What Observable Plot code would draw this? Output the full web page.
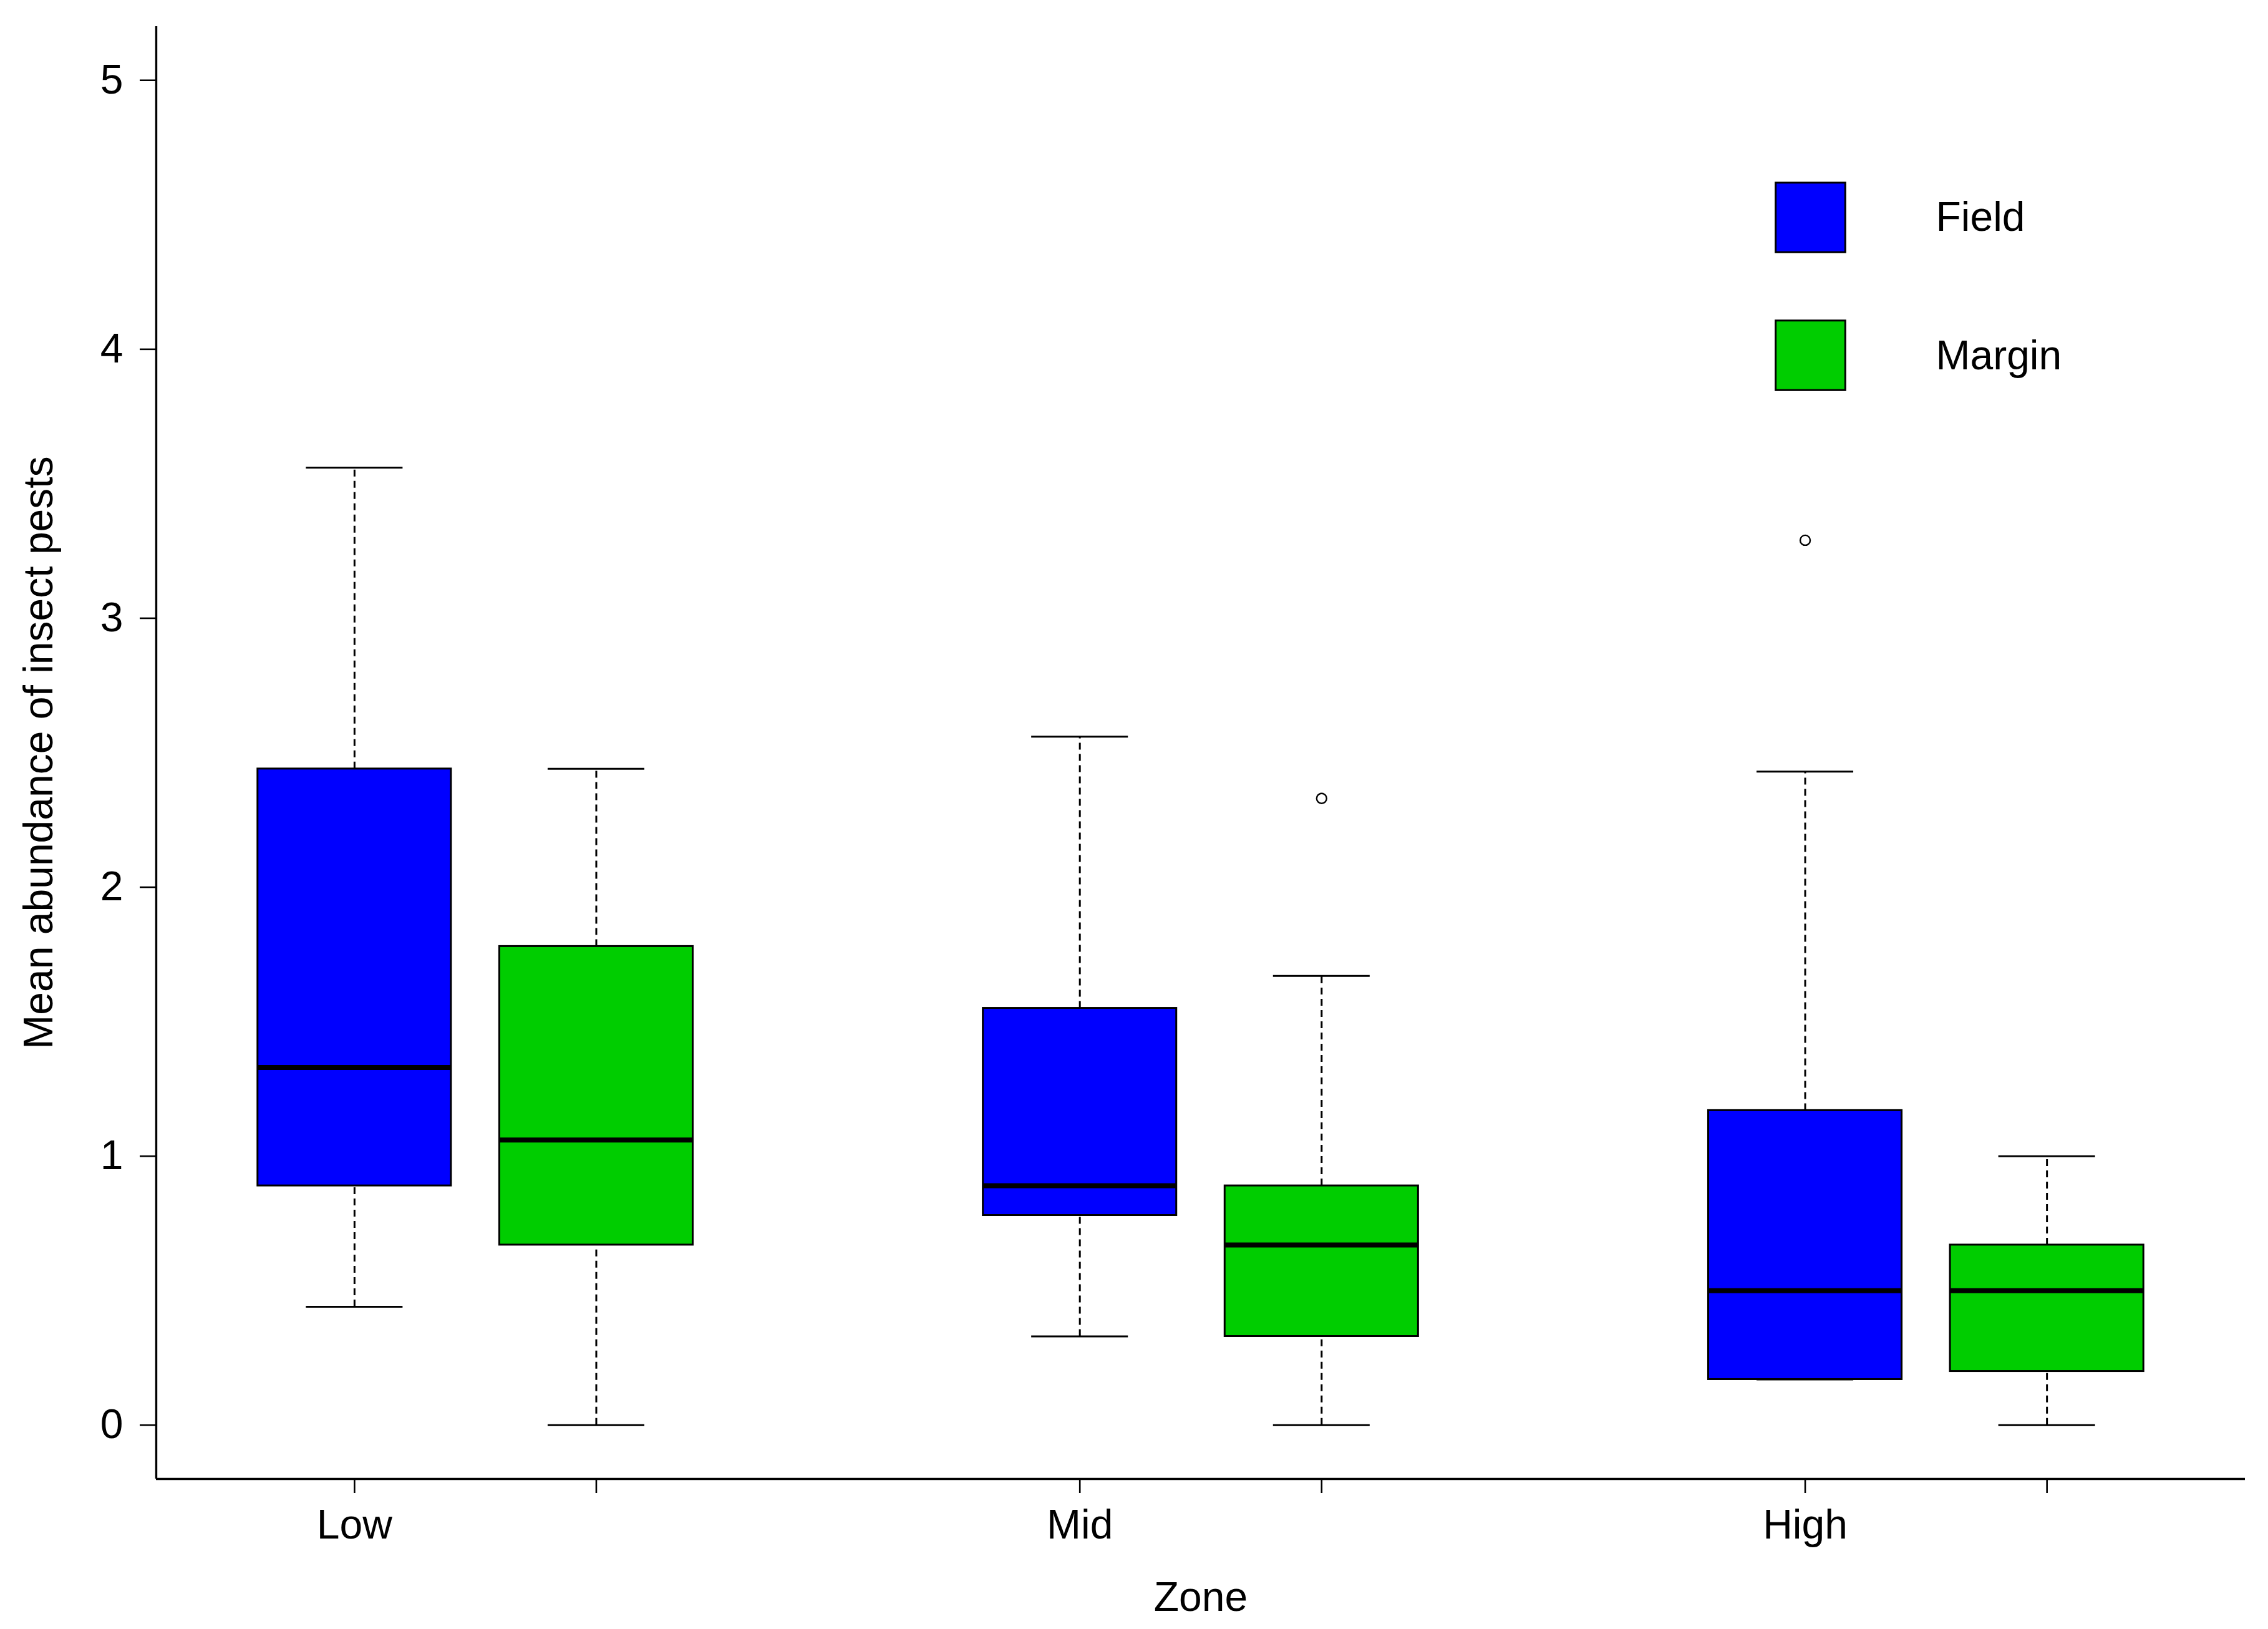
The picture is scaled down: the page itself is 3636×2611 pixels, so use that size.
<!DOCTYPE html>
<html>
<head>
<meta charset="utf-8">
<script src="https://cdn.jsdelivr.net/npm/d3@7"></script>
<script src="https://cdn.jsdelivr.net/npm/@observablehq/plot@0.6"></script>
<style>
  html, body { margin: 0; padding: 0; background: #ffffff; }
  svg { display: block; }
</style>
</head>
<body>
<div id="chart"></div>
<script>
// ---- data ----
const zones = ["Low", "Mid", "High"];
const groups = ["Field", "Margin"];
const groupColors = ["#0000FF", "#00CD00"];

const fieldMin    = [0.44, 0.33, 0.17];
const fieldQ1     = [0.89, 0.78, 0.17];
const fieldMedian = [1.33, 0.89, 0.50];
const fieldQ3     = [2.44, 1.55, 1.17];
const fieldMax    = [3.56, 2.56, 2.43];

const marginMin    = [0.00, 0.00, 0.00];
const marginQ1     = [0.67, 0.33, 0.20];
const marginMedian = [1.06, 0.67, 0.50];
const marginQ3     = [1.78, 0.89, 0.67];
const marginMax    = [2.44, 1.67, 1.00];

const outlierZone  = ["Mid", "High"];
const outlierGroup = ["Margin", "Field"];
const outlierValue = [2.33, 3.29];

const yTicks = [0, 1, 2, 3, 4, 5];
const xTitle = "Zone";
const yTitle = "Mean abundance of insect pests";

// ---- build table ----
const stats = {
  Field:  {min: fieldMin,  q1: fieldQ1,  med: fieldMedian,  q3: fieldQ3,  max: fieldMax},
  Margin: {min: marginMin, q1: marginQ1, med: marginMedian, q3: marginQ3, max: marginMax}
};
// box positions like R's boxplot(at = c(1,2, 4,5, 7,8))
const posOf = (zone, group) => zones.indexOf(zone) * 3 + groups.indexOf(group) + 1;
const boxes = [];
zones.forEach((z, i) => groups.forEach((g, j) => {
  const s = stats[g];
  boxes.push({zone: z, group: g, pos: posOf(z, g), min: s.min[i], q1: s.q1[i], med: s.med[i], q3: s.q3[i], max: s.max[i], color: groupColors[j]});
}));
const outliers = outlierValue.map((v, i) => ({pos: posOf(outlierZone[i], outlierGroup[i]), value: v}));
const tickPositions = boxes.map(d => d.pos);
const labelAt = new Map(zones.map(z => [posOf(z, groups[0]), z]));

// R-style axis ranges: xlim c(0.5, 8.5), ylim c(0,5), each extended by 4%
const xlo = 0.5, xhi = 3 * zones.length - 0.5;
const xpad = (xhi - xlo) * 0.04;
const ylo = 0, yhi = 5, ypad = (yhi - ylo) * 0.04;
const xDomain = [xlo - xpad, xhi + xpad];
const yDomain = [ylo - ypad, yhi + ypad];

const halfBox = 0.4, halfCap = 0.2;
const fontSize = 66;
const lw = 3;

const chart = Plot.plot({
  width: 3636,
  height: 2611,
  marginLeft: 250,
  marginRight: 37,
  marginTop: 42,
  marginBottom: 241,
  style: {fontFamily: "'Liberation Sans', Arial, sans-serif", background: "#ffffff", color: "#000000"},
  x: {type: "linear", domain: xDomain},
  y: {type: "linear", domain: yDomain},
  marks: [
    // whiskers (dashed)
    Plot.ruleX(boxes, {x: "pos", y1: "q3", y2: "max", stroke: "#000", strokeWidth: lw, strokeDasharray: "11,7"}),
    Plot.ruleX(boxes, {x: "pos", y1: "min", y2: "q1", stroke: "#000", strokeWidth: lw, strokeDasharray: "11,7"}),
    // staples
    Plot.ruleY(boxes, {y: "max", x1: d => d.pos - halfCap, x2: d => d.pos + halfCap, stroke: "#000", strokeWidth: lw}),
    Plot.ruleY(boxes, {y: "min", x1: d => d.pos - halfCap, x2: d => d.pos + halfCap, stroke: "#000", strokeWidth: lw}),
    // boxes
    Plot.rect(boxes, {x1: d => d.pos - halfBox, x2: d => d.pos + halfBox, y1: "q1", y2: "q3", fill: "color", stroke: "#000", strokeWidth: lw}),
    // medians
    Plot.ruleY(boxes, {y: "med", x1: d => d.pos - halfBox, x2: d => d.pos + halfBox, stroke: "#000", strokeWidth: 8}),
    // outliers
    Plot.dot(outliers, {x: "pos", y: "value", r: 8, fill: "none", stroke: "#000", strokeWidth: 2.4}),
    // axes lines (bty = "l")
    Plot.ruleX([xDomain[0]], {stroke: "#000", strokeWidth: 3.4}),
    Plot.ruleY([yDomain[0]], {stroke: "#000", strokeWidth: 3.4}),
    // axes
    Plot.axisY({ticks: yTicks, tickSize: 26, tickPadding: 27, fontSize: fontSize, strokeWidth: 2.6, label: null, tickFormat: d => String(d)}),
    Plot.axisX({ticks: tickPositions, tickSize: 23, tickPadding: 26, fontSize: fontSize, strokeWidth: 2.6, label: null, tickFormat: d => labelAt.get(d) ?? ""}),
    // axis titles
    Plot.text([xTitle], {frameAnchor: "bottom", dy: 211, lineAnchor: "bottom", fontSize: fontSize, fill: "#000"}),
    Plot.text([yTitle], {frameAnchor: "left", dx: -167, rotate: -90, textAnchor: "middle", lineAnchor: "bottom", fontSize: fontSize, fill: "#000"}),
    // legend
    ...groups.map((g, i) => Plot.dot([g], {frameAnchor: "top-right", dx: -697, dy: 306 + i * 221, symbol: "square", r: 63, fill: groupColors[i], stroke: "#000", strokeWidth: 3})),
    ...groups.map((g, i) => Plot.text([g], {frameAnchor: "top-right", dx: -496, dy: 306 + i * 222, text: d => d, textAnchor: "start", lineAnchor: "middle", fontSize: fontSize, fill: "#000"}))
  ]
});
document.getElementById("chart").appendChild(chart);
</script>
</body>
</html>
